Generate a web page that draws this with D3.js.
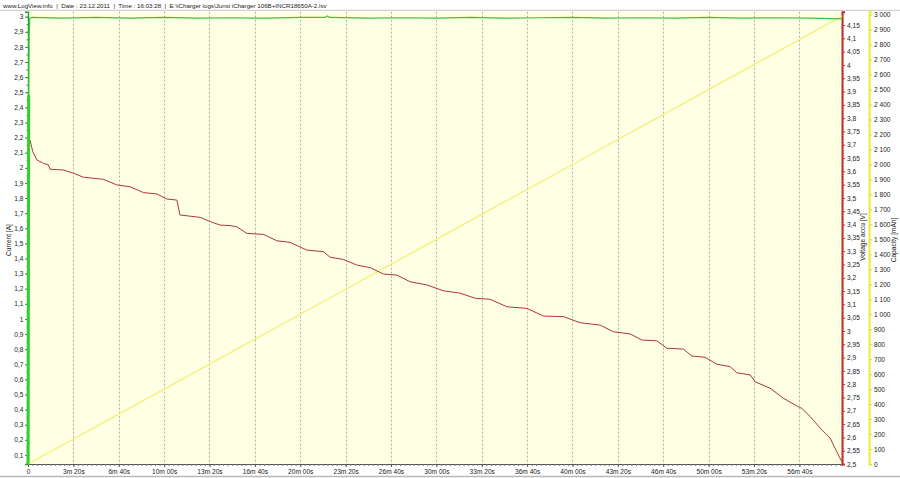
<!DOCTYPE html>
<html>
<head>
<meta charset="utf-8">
<script src="https://cdn.jsdelivr.net/npm/d3@7"></script>
<style>
  html, body { margin: 0; padding: 0; background: #fff; }
  svg { display: block; font-family: "Liberation Sans", Arial, sans-serif; }
</style>
</head>
<body>
<svg id="chart" width="900" height="478"></svg>
<script>
// ---------- data ----------
const headerParts = ["www.LogView.info", "Date : 23.12.2011", "Time : 16:03:28", "E:\\iCharger logs\\Junsi iCharger 106B+INCR18650A-2.lsv"];

// voltage of the accu [V] vs time [s]
const voltTime = [9, 21, 39, 68, 90, 97, 156, 200, 244, 332, 391, 450, 509, 568, 612, 656, 670, 759, 803, 847, 891, 920, 964, 1038, 1097, 1155, 1229, 1302, 1332, 1390, 1449, 1508, 1567, 1626, 1684, 1758, 1831, 1905, 1971, 2037, 2111, 2199, 2272, 2360, 2434, 2522, 2581, 2654, 2706, 2772, 2816, 2889, 2926, 2985, 3036, 3095, 3124, 3183, 3205, 3271, 3330, 3389, 3411, 3448, 3499, 3536, 3565, 3587];
const voltVal  = [3.718, 3.674, 3.643, 3.630, 3.624, 3.608, 3.605, 3.593, 3.578, 3.570, 3.549, 3.542, 3.520, 3.515, 3.496, 3.492, 3.436, 3.427, 3.411, 3.398, 3.396, 3.392, 3.367, 3.363, 3.339, 3.333, 3.304, 3.298, 3.277, 3.269, 3.248, 3.238, 3.214, 3.210, 3.185, 3.173, 3.151, 3.142, 3.123, 3.119, 3.091, 3.085, 3.056, 3.054, 3.031, 3.022, 2.997, 2.989, 2.966, 2.963, 2.935, 2.932, 2.906, 2.901, 2.875, 2.866, 2.843, 2.835, 2.809, 2.785, 2.747, 2.718, 2.709, 2.678, 2.628, 2.597, 2.546, 2.509];

// current [A] vs time [s]
const curTime = [0, 3, 5, 8, 20, 150, 300, 450, 600, 750, 900, 1050, 1200, 1310, 1320, 1330, 1500, 1650, 1800, 1950, 2100, 2250, 2400, 2550, 2700, 2850, 3000, 3150, 3300, 3450, 3588];
const curVal  = [0.04, 2.48, 2.88, 2.99, 2.995, 2.99, 2.995, 2.99, 2.995, 2.99, 2.993, 2.99, 2.995, 2.995, 3.005, 2.995, 2.99, 2.993, 2.99, 2.995, 2.99, 2.993, 2.995, 2.99, 2.993, 2.99, 2.995, 2.99, 2.993, 2.99, 2.985];

// capacity [mAh] vs time [s]
const capTime = [0, 600, 1200, 1800, 2400, 3000, 3588];
const capVal  = [0, 500, 1000, 1500, 2000, 2500, 2990];

// tick values
const xTicks = [0, 200, 400, 600, 800, 1000, 1200, 1400, 1600, 1800, 2000, 2200, 2400, 2600, 2800, 3000, 3200, 3400];
const curTicks = d3.range(1, 31).map(d => d / 10);
const voltTicks = d3.range(50, 84).map(d => d / 20);
const capTicks = d3.range(0, 31).map(d => d * 100);

// ---------- layout ----------
const L = 28, R = 842, T = 11.7, B = 464, CAPX = 869;
const svg = d3.select("#chart");
const FS = "6.6px";
const TXT = "#222";

const x  = d3.scaleLinear().domain([0, 3588]).range([L, R]);
const yI = d3.scaleLinear().domain([0.04, 3.033]).range([B, T]);
const yV = d3.scaleLinear().domain([2.5, 4.2]).range([B, T]);
const yC = d3.scaleLinear().domain([0, 3020]).range([B, T]);

// header
svg.append("text").attr("x", 3).attr("y", 7.6)
  .attr("font-size", "6.2px").attr("fill", TXT)
  .style("white-space", "pre")
  .text(headerParts.join("  |  "));
svg.append("line").attr("x1", 0).attr("x2", 900).attr("y1", 10.3).attr("y2", 10.3)
  .attr("stroke", "#c8c8c8").attr("stroke-width", 1);
svg.append("line").attr("x1", 0).attr("x2", 900).attr("y1", 476.5).attr("y2", 476.5)
  .attr("stroke", "#b8b8b8").attr("stroke-width", 1.5);

// plot background
svg.append("rect").attr("x", L).attr("y", T).attr("width", R - L).attr("height", B - T)
  .attr("fill", "#ffffe4");

// vertical dashed grid
svg.append("g").selectAll("line").data(xTicks.slice(1)).join("line")
  .attr("x1", d => Math.round(x(d)) + 0.5).attr("x2", d => Math.round(x(d)) + 0.5)
  .attr("y1", T).attr("y2", B)
  .attr("stroke", "#b0b0b0").attr("stroke-width", 1).attr("stroke-dasharray", "2,2");

// formatters
const fmtDec = v => (Math.round(v * 100) / 100).toString().replace(".", ",");
const fmtCap = v => v >= 1000 ? Math.floor(v / 1000) + " " + String(v % 1000).padStart(3, "0") : String(v);
const fmtTime = s => s === 0 ? "0" : Math.floor(s / 60) + "m " + String(s % 60).padStart(2, "0") + "s";

// x axis
const gx = svg.append("g").attr("transform", `translate(0,${B})`)
  .call(d3.axisBottom(x).tickValues(d3.range(0, 3588, 20)).tickSize(2).tickFormat(""));
gx.select(".domain").attr("stroke", "#555");
gx.selectAll(".tick line").attr("stroke", "#777");
const gx2 = svg.append("g").attr("transform", `translate(0,${B})`)
  .call(d3.axisBottom(x).tickValues(xTicks).tickSize(3).tickFormat(fmtTime));
gx2.select(".domain").remove();
gx2.selectAll(".tick line").attr("stroke", "#555");
gx2.selectAll("text").attr("font-size", FS).attr("fill", TXT).attr("font-family", null).attr("dy", "0.55em");

// left current axis
const gI = svg.append("g").attr("transform", `translate(${L},0)`)
  .call(d3.axisLeft(yI).tickValues(curTicks).tickSize(3).tickFormat(fmtDec));
gI.select(".domain").attr("stroke", "#22a022").attr("stroke-width", 1.4);
gI.selectAll(".tick line").attr("stroke", "#22a022");
gI.selectAll("text").attr("font-size", FS).attr("fill", TXT).attr("font-family", null).attr("x", -4.5);
svg.append("g").attr("transform", `translate(${L},0)`)
  .call(d3.axisLeft(yI).tickValues(d3.range(0.05, 3.03, 0.05)).tickSize(1.5).tickFormat(""))
  .call(g => g.select(".domain").remove())
  .selectAll(".tick line").attr("stroke", "#22a022");

// right voltage axis
const gV = svg.append("g").attr("transform", `translate(${R},0)`)
  .call(d3.axisRight(yV).tickValues(voltTicks).tickSize(3).tickFormat(fmtDec));
gV.select(".domain").attr("stroke", "#c03030").attr("stroke-width", 2);
gV.selectAll(".tick line").attr("stroke", "#c03030");
gV.selectAll("text").attr("font-size", FS).attr("fill", TXT).attr("font-family", null).attr("x", 5);
svg.append("g").attr("transform", `translate(${R},0)`)
  .call(d3.axisRight(yV).tickValues(d3.range(2.51, 4.2, 0.01)).tickSize(1.5).tickFormat(""))
  .call(g => g.select(".domain").remove())
  .selectAll(".tick line").attr("stroke", "#c03030");

// capacity axis
const gC = svg.append("g").attr("transform", `translate(${CAPX},0)`)
  .call(d3.axisRight(yC).tickValues(capTicks).tickSize(3).tickFormat(fmtCap));
gC.select(".domain").attr("stroke", "#eeee30").attr("stroke-width", 2);
gC.selectAll(".tick line").attr("stroke", "#d8d840");
gC.selectAll("text").attr("font-size", FS).attr("fill", TXT).attr("font-family", null).attr("x", 5);
svg.append("g").attr("transform", `translate(${CAPX},0)`)
  .call(d3.axisRight(yC).tickValues(d3.range(20, 3020, 20)).tickSize(1.5).tickFormat(""))
  .call(g => g.select(".domain").remove())
  .selectAll(".tick line").attr("stroke", "#eeee30");

// axis titles
const title = (tx, ty, t) => svg.append("text")
  .attr("transform", `translate(${tx},${ty}) rotate(-90)`)
  .attr("text-anchor", "middle").attr("font-size", FS).attr("fill", TXT).text(t);
title(10.5, 240, "Current [A]");
title(864.5, 237, "Voltage accu [V]");
title(895.5, 240, "Capacity [mAh]");

// series
const plot = svg.append("g");
plot.append("path")
  .datum(d3.zip(capTime, capVal))
  .attr("fill", "none").attr("stroke", "#f2f07a").attr("stroke-width", 1.3)
  .attr("d", d3.line().x(d => x(d[0])).y(d => yC(d[1])));
plot.append("path")
  .datum(d3.zip(voltTime, voltVal))
  .attr("fill", "none").attr("stroke", "#b03535").attr("stroke-width", 1)
  .attr("d", d3.line().x(d => x(d[0])).y(d => yV(d[1])));
plot.append("path")
  .datum(d3.zip(curTime, curVal))
  .attr("fill", "none").attr("stroke", "#40c040").attr("stroke-width", 1.2)
  .attr("d", d3.line().x(d => x(d[0])).y(d => yI(d[1])));
// initial current ramp (0 → 2.5 A) drawn heavier as in the logger view
plot.append("path")
  .datum(d3.zip(curTime.slice(0, 2), curVal.slice(0, 2)))
  .attr("fill", "none").attr("stroke", "#30d030").attr("stroke-width", 3)
  .attr("d", d3.line().x(d => x(d[0])).y(d => yI(d[1])));
</script>
</body>
</html>
